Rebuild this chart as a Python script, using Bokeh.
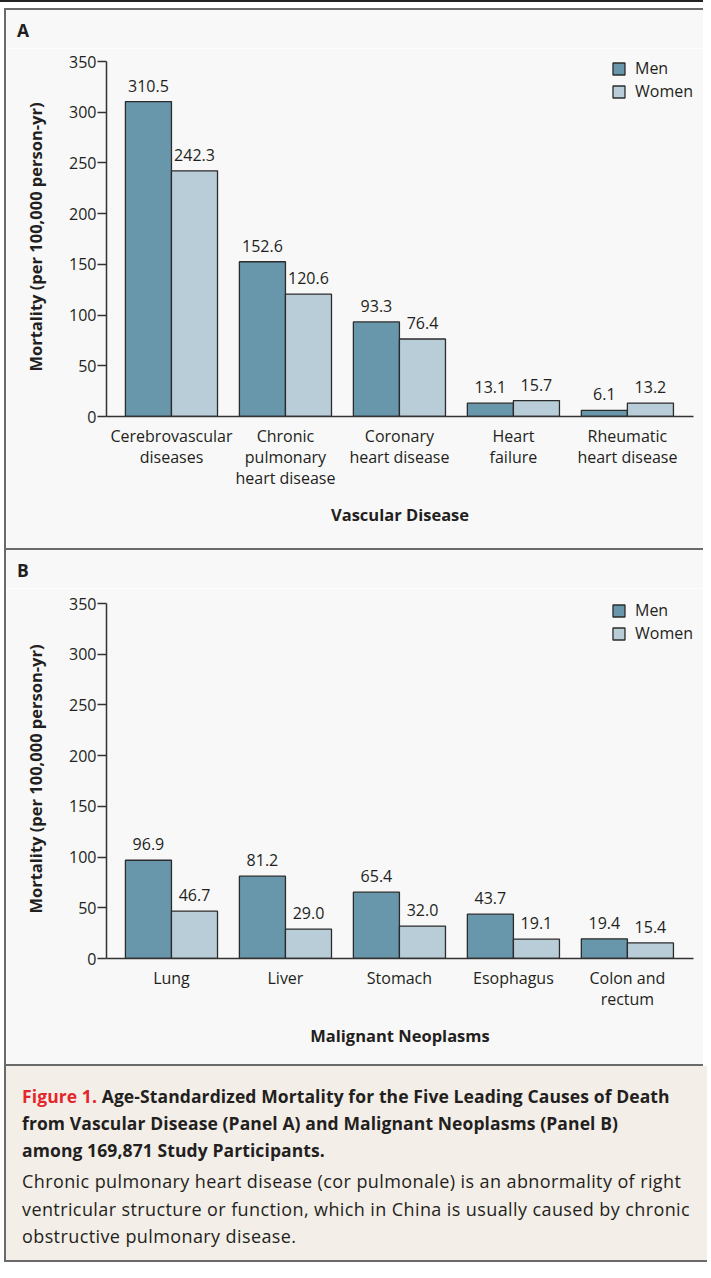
from bokeh.plotting import figure
from bokeh.models import Div, FixedTicker, Range1d, ColumnDataSource
from bokeh.layouts import column, row
from bokeh.transform import dodge
from bokeh.embed import file_html
from bokeh.resources import INLINE
from bokeh.core.properties import value

vascular_causes = ["Cerebrovascular\ndiseases", "Chronic\npulmonary\nheart disease",
                   "Coronary\nheart disease", "Heart\nfailure", "Rheumatic\nheart disease"]
vascular_men = [310.5, 152.6, 93.3, 13.1, 6.1]
vascular_women = [242.3, 120.6, 76.4, 15.7, 13.2]

neoplasm_causes = ["Lung", "Liver", "Stomach", "Esophagus", "Colon and\nrectum"]
neoplasm_men = [96.9, 81.2, 65.4, 43.7, 19.4]
neoplasm_women = [46.7, 29.0, 32.0, 19.1, 15.4]

y_ticks = [0, 50, 100, 150, 200, 250, 300, 350]
series_names = ["Men", "Women"]

FONT = "Open Sans"
BG = "#f8f8f8"
BORDER = "#6a6a6a"
MEN_C = "#6896ab"
WOMEN_C = "#b9cdd8"
INK = "#231f20"
FIG_W = 697
Y_TOP = 354.0          # a little headroom above the 350 tick for the legend
FRAME_H = 359
HEAD_H = 38


def make_panel(causes, men, women, xlabel, h, top):
    n = len(causes)
    xs = list(range(n))
    p = figure(width=FIG_W, height=h, output_backend="svg", toolbar_location=None,
               title=None,
               x_range=Range1d(-0.57, n - 1 + 0.58), y_range=Range1d(0, Y_TOP),
               min_border_left=100, min_border_right=10, min_border_top=top,
               min_border_bottom=h - top - FRAME_H, background_fill_color=BG,
               border_fill_color=BG, outline_line_color=None)
    src = ColumnDataSource(dict(x=xs, men=men, women=women,
                                mlab=[f"{v:.1f}" for v in men],
                                wlab=[f"{v:.1f}" for v in women]))
    p.vbar(x=dodge("x", -0.202, range=p.x_range), top="men", width=0.404, bottom=0,
           source=src, fill_color=MEN_C, line_color="#2b2b2b", line_width=1.3,
           legend_label=series_names[0])
    p.vbar(x=dodge("x", 0.202, range=p.x_range), top="women", width=0.404, bottom=0,
           source=src, fill_color=WOMEN_C, line_color="#2b2b2b", line_width=1.3,
           legend_label=series_names[1])
    for off, col, lab in [(-0.202, "men", "mlab"), (0.202, "women", "wlab")]:
        p.text(x=dodge("x", off, range=p.x_range), y=col, text=lab, source=src,
               text_align="center", text_baseline="bottom", y_offset=-10,
               text_font=value(FONT), text_font_size="16px", text_color=INK)

    p.grid.visible = False
    xa = p.xaxis[0]
    xa.ticker = FixedTicker(ticks=xs)
    xa.major_label_overrides = {i: c for i, c in enumerate(causes)}
    xa.major_tick_out = 0
    xa.major_tick_in = 0
    xa.minor_tick_out = 0
    xa.minor_tick_in = 0
    xa.axis_line_color = "#333333"
    xa.axis_line_width = 1.5
    xa.major_label_text_font = FONT
    xa.major_label_text_font_size = "16px"
    xa.major_label_text_color = INK
    xa.major_label_text_line_height = 0.96
    xa.major_label_standoff = 8
    xa.axis_label = xlabel
    xa.axis_label_text_font = FONT
    xa.axis_label_text_font_size = "16.5px"
    xa.axis_label_text_font_style = "bold"
    xa.axis_label_text_color = INK
    xa.axis_label_standoff = 11

    ya = p.yaxis[0]
    ya.ticker = FixedTicker(ticks=y_ticks)
    ya.bounds = (0, 350)
    ya.major_tick_out = 9
    ya.major_tick_in = 0
    ya.minor_tick_out = 0
    ya.minor_tick_in = 0
    ya.major_tick_line_color = "#333333"
    ya.major_tick_line_width = 1.3
    ya.axis_line_color = "#333333"
    ya.axis_line_width = 1.5
    ya.major_label_text_font = FONT
    ya.major_label_text_font_size = "16px"
    ya.major_label_text_color = INK
    ya.major_label_standoff = 1
    ya.axis_label = "Mortality (per 100,000 person-yr)"
    ya.axis_label_text_font = FONT
    ya.axis_label_text_font_size = "16.5px"
    ya.axis_label_text_font_style = "bold"
    ya.axis_label_text_color = INK
    ya.axis_label_standoff = 19

    lg = p.legend[0]
    lg.location = "top_right"
    lg.margin = 0
    lg.padding = 0
    lg.border_line_color = None
    lg.background_fill_alpha = 0
    lg.glyph_width = 15
    lg.glyph_height = 15
    lg.label_standoff = 9
    lg.spacing = 1
    lg.label_text_font = FONT
    lg.label_text_font_size = "16px"
    lg.label_text_color = INK
    return p


def bar_div(w, h, color):
    return Div(text="", width=w, height=h, margin=0,
               styles={"background-color": color})


def head_div(letter):
    html = ('<div style="width:%dpx;height:%dpx;box-sizing:border-box;background:%s;'
            'padding:10px 0 0 11px;font-family:\'Open Sans\';font-weight:bold;'
            'font-size:17.5px;line-height:20px;color:%s;">%s</div>'
            % (FIG_W, HEAD_H, BG, INK, letter))
    return Div(text=html, width=FIG_W, height=HEAD_H, margin=0,
               styles={"background-color": BG})


pA = make_panel(vascular_causes, vascular_men, vascular_women,
                "Vascular Disease", 538 - HEAD_H, 9)
pB = make_panel(neoplasm_causes, neoplasm_men, neoplasm_women,
                "Malignant Neoplasms", 514 - HEAD_H, 11)

caption_html = (
    '<div style="width:703px;height:196px;box-sizing:border-box;background:#f3eee8;'
    'margin-left:4px;border-left:2px solid %s;border-bottom:2px solid %s;padding:17px 0 0 16px;'
    'font-family:\'Open Sans\';color:#231f20;white-space:nowrap;">'
    '<div style="font-weight:bold;font-size:17.5px;line-height:27px;letter-spacing:0.1px;">'
    '<span style="color:#e3262c;">Figure 1.</span> Age-Standardized Mortality for the Five Leading Causes of Death<br>'
    'from Vascular Disease (Panel A) and Malignant Neoplasms (Panel B)<br>'
    'among 169,871 Study Participants.</div>'
    '<div style="font-size:18px;line-height:27.5px;margin-top:4px;letter-spacing:0.4px;">'
    'Chronic pulmonary heart disease (cor pulmonale) is an abnormality of right<br>'
    'ventricular structure or function, which in China is usually caused by chronic<br>'
    'obstructive pulmonary disease.</div></div>'
) % (BORDER, BORDER)
caption = Div(text=caption_html, width=703, height=196, margin=0)


def panel_row(letter, fig, h):
    return row(bar_div(4, h, "#ffffff"), bar_div(2, h, BORDER),
               column(head_div(letter), fig, spacing=0), spacing=0)


def hline():
    return row(bar_div(4, 2, "#ffffff"), bar_div(699, 2, BORDER), spacing=0)


layout = column(
    bar_div(703, 2, "#222222"),
    bar_div(703, 6, "#ffffff"),
    hline(),
    panel_row("A", pA, 538),
    hline(),
    panel_row("B", pB, 514),
    hline(),
    caption,
    spacing=0,
)

open("out.html", "w").write(file_html(layout, INLINE))
